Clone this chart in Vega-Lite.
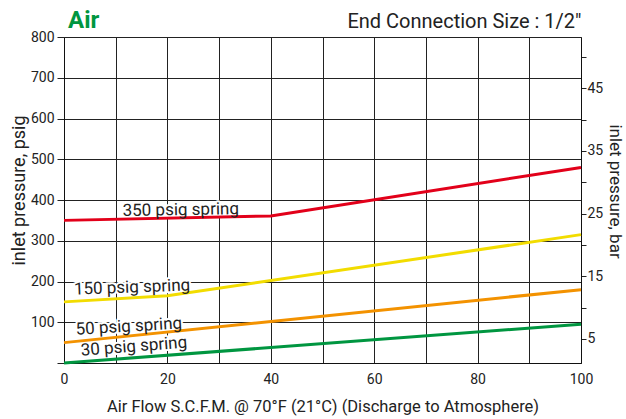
{
  "$schema": "https://vega.github.io/schema/vega-lite/v6.json",
  "width": 517,
  "height": 326,
  "autosize": "none",
  "padding": {"left": 64, "top": 37, "right": 45, "bottom": 56},
  "background": "white",
  "config": {
    "font": "Roboto",
    "view": {"stroke": null},
    "axis": {"labelFont": "Roboto", "titleFont": "Roboto", "labelColor": "#222", "titleColor": "#222", "titleFontWeight": "normal", "labelFontSize": 14, "gridColor": "#222", "gridWidth": 1, "gridOpacity": 1, "domainColor": "#111", "tickColor": "#222", "labelFlush": false}
  },
  "title": {"text": "Air", "anchor": "start", "frame": "group", "color": "#009640", "fontSize": 24, "fontWeight": "bold", "font": "Roboto", "offset": -22, "dx": 4},
  "datasets": {
    "curves": [
      {"spring": "30 psig spring", "flow": 0, "psig": 0},
      {"spring": "30 psig spring", "flow": 100, "psig": 95},
      {"spring": "50 psig spring", "flow": 0, "psig": 50},
      {"spring": "50 psig spring", "flow": 100, "psig": 180},
      {"spring": "150 psig spring", "flow": 0, "psig": 150},
      {"spring": "150 psig spring", "flow": 20, "psig": 165},
      {"spring": "150 psig spring", "flow": 100, "psig": 315},
      {"spring": "350 psig spring", "flow": 0, "psig": 350},
      {"spring": "350 psig spring", "flow": 40, "psig": 361},
      {"spring": "350 psig spring", "flow": 100, "psig": 480}
    ],
    "labels": [
      {"spring": "350 psig spring", "flow": 22.6, "psig": 363},
      {"spring": "150 psig spring", "flow": 13.2, "psig": 173},
      {"spring": "50 psig spring", "flow": 12.6, "psig": 77},
      {"spring": "30 psig spring", "flow": 13.6, "psig": 28}
    ],
    "bar": [
      {"flow": 0, "bar": 5},
      {"flow": 100, "bar": 50}
    ]
  },
  "layer": [
    {
      "layer": [
        {
          "data": {"name": "labels"},
          "mark": {"type": "text", "stroke": "white", "strokeWidth": 4, "fill": "white", "fontSize": 17, "baseline": "alphabetic", "align": "center", "font": "Roboto"},
          "encoding": {
            "x": {"field": "flow", "type": "quantitative"},
            "y": {"field": "psig", "type": "quantitative"},
            "text": {"field": "spring"},
            "angle": {"field": "spring", "type": "ordinal", "scale": {"domain": ["350 psig spring", "150 psig spring", "50 psig spring", "30 psig spring"], "range": [359, 355.5, 354.7, 354.5]}, "legend": null}
          }
        },
        {
          "data": {"name": "curves"},
          "mark": {"type": "line", "strokeWidth": 3},
          "encoding": {
            "x": {"field": "flow", "type": "quantitative", "scale": {"domain": [0, 100], "nice": false},
              "axis": {"orient": "bottom", "values": [0, 10, 20, 30, 40, 50, 60, 70, 80, 90, 100], "labelExpr": "datum.value % 20 == 0 ? datum.label : ''", "ticks": false, "grid": true, "labelPadding": 9, "title": "Air Flow S.C.F.M. @ 70°F (21°C) (Discharge to Atmosphere)", "titleFontSize": 16.5, "titlePadding": 12}},
            "y": {"field": "psig", "type": "quantitative", "scale": {"domain": [0, 800], "nice": false},
              "axis": {"orient": "left", "values": [0, 100, 200, 300, 400, 500, 600, 700, 800], "labelExpr": "datum.value == 0 ? '' : datum.label", "tickSize": 7, "labelPadding": 3, "grid": true, "title": "inlet pressure, psig", "titleFontSize": 18, "titlePadding": 2, "titleY": 153}},
            "color": {"field": "spring", "type": "nominal", "scale": {"domain": ["30 psig spring", "50 psig spring", "150 psig spring", "350 psig spring"], "range": ["#009640", "#f39200", "#f2dc00", "#e2001a"]}, "legend": null}
          }
        },
        {
          "data": {"name": "labels"},
          "mark": {"type": "text", "fill": "#222", "fontSize": 17, "baseline": "alphabetic", "align": "center", "font": "Roboto"},
          "encoding": {
            "x": {"field": "flow", "type": "quantitative"},
            "y": {"field": "psig", "type": "quantitative"},
            "text": {"field": "spring"},
            "angle": {"field": "spring", "type": "ordinal", "scale": {"domain": ["350 psig spring", "150 psig spring", "50 psig spring", "30 psig spring"], "range": [359, 355.5, 354.7, 354.5]}, "legend": null}
          }
        }
      ]
    },
    {
      "data": {"name": "bar"},
      "mark": {"type": "point", "opacity": 0},
      "encoding": {
        "x": {"field": "flow", "type": "quantitative",
          "axis": {"orient": "top", "labels": false, "ticks": false, "domain": false, "grid": false, "title": "End Connection Size : 1/2\"", "titleAnchor": "end", "titleFontSize": 20, "titlePadding": 6}},
        "y": {"field": "bar", "type": "quantitative", "scale": {"domain": [1.17, 53.19], "nice": false, "zero": false},
          "axis": {"orient": "right", "values": [5, 10, 15, 20, 25, 30, 35, 40, 45, 50], "labelExpr": "datum.value % 10 == 5 ? datum.label : ''", "tickSize": 5, "labelPadding": 1, "grid": false, "domain": true, "title": "inlet pressure, bar", "titleAngle": 90, "titleFontSize": 17, "titlePadding": 3, "titleY": 154}}
      }
    }
  ],
  "resolve": {"scale": {"y": "independent"}, "axis": {"x": "independent"}}
}
